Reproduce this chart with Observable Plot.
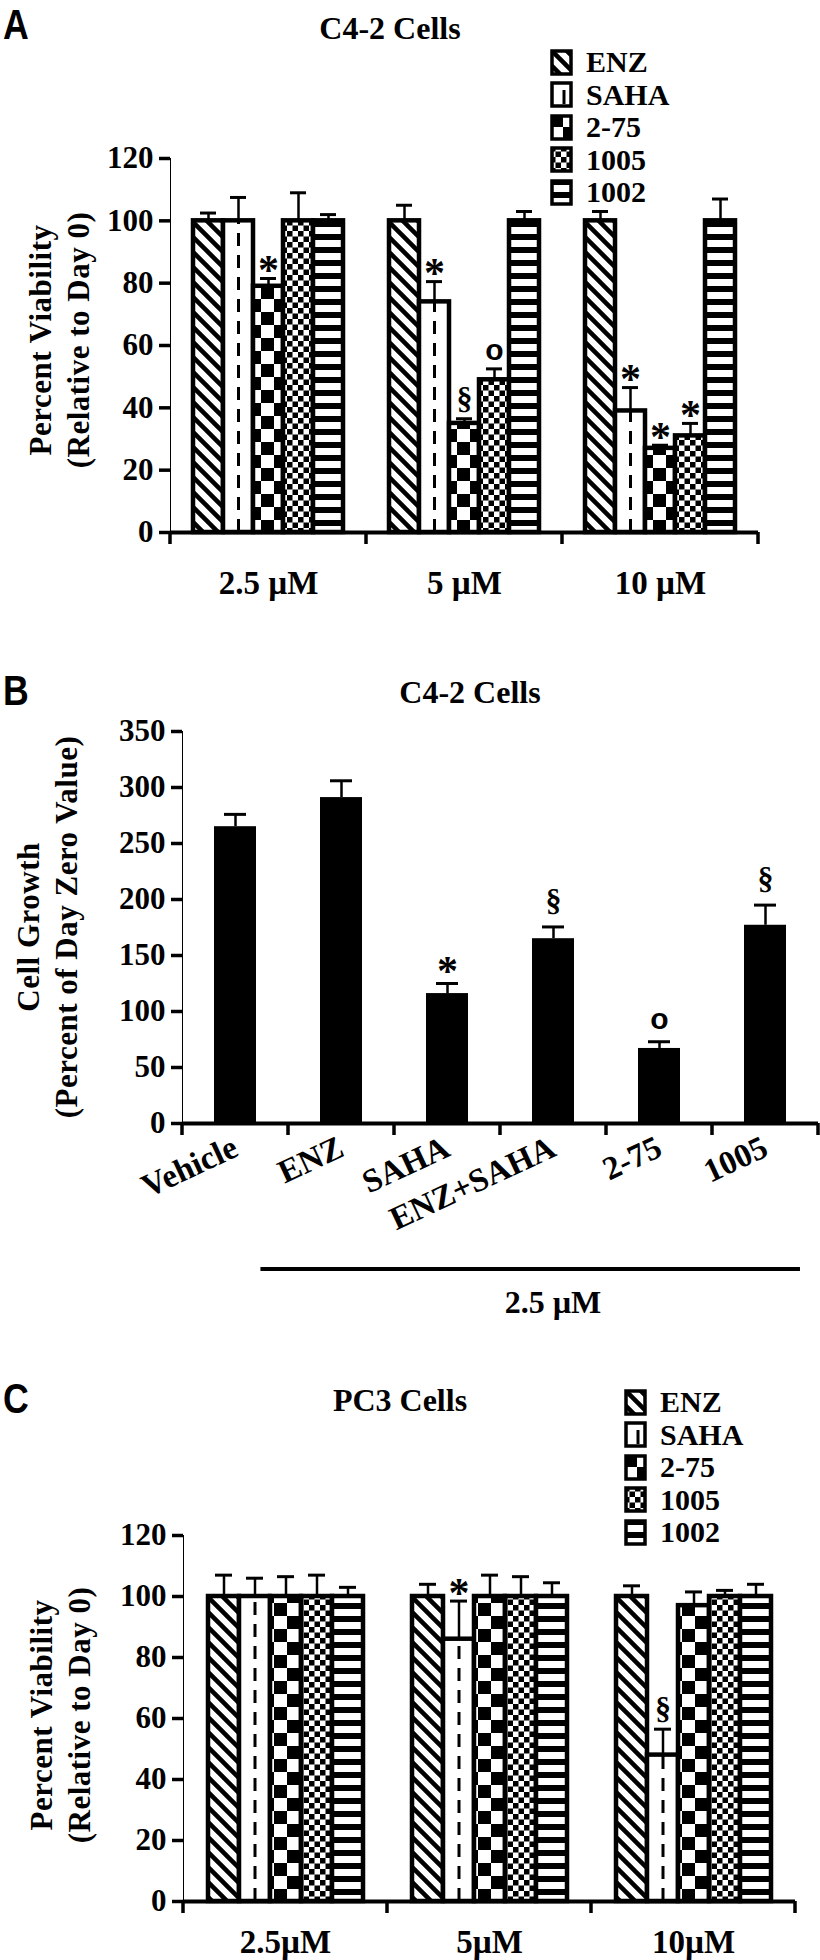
<!DOCTYPE html>
<html><head><meta charset="utf-8">
<script src="https://cdn.jsdelivr.net/npm/d3@7"></script>
<script src="https://cdn.jsdelivr.net/npm/@observablehq/plot@0.6"></script>
<style>
body{margin:0;background:#fff;width:820px;height:1960px;position:relative;overflow:hidden;font-family:"Liberation Serif","Times New Roman",serif;color:#000}
.plab{position:absolute;font:bold 42px "Liberation Sans",Arial,sans-serif;line-height:42px;transform:scaleX(0.85);transform-origin:left top}
.title{position:absolute;font:bold 32px "Liberation Serif",serif;transform:translate(-50%,-50%);white-space:nowrap}
.ytitle{position:absolute;font:bold 31px "Liberation Serif",serif;transform:translate(-50%,-50%) rotate(-90deg);white-space:nowrap;text-align:center;line-height:38px;letter-spacing:0.5px}
.legend{position:absolute;font:bold 30px "Liberation Serif",serif}
.legend .row{display:flex;align-items:center;height:32.5px;white-space:nowrap}
.legend svg{margin-right:12px;flex:none}
.pa [aria-label^="y-axis"] line,.pa [aria-label^="y-axis"] path{stroke-width:3.5px}
</style></head>
<body>
<script>
const SERIF = '"Liberation Serif","Times New Roman",serif';
const SANS = '"Liberation Sans",Arial,sans-serif';

// ---------- data ----------
const seriesNames = ["ENZ", "SAHA", "2-75", "1005", "1002"];

// Panel A: C4-2 cells, percent viability
const dosesA = ["2.5 µM", "5 µM", "10 µM"];
const aENZ = [100, 100, 100];
const aSAHA = [100, 74, 39];
const a275 = [79, 35, 27];
const a1005 = [100, 49, 31];
const a1002 = [100, 100, 100];
const aErrENZ = [2.5, 5, 3];
const aErrSAHA = [7.5, 6.5, 7.5];
const aErr275 = [2.5, 1.5, 1];
const aErr1005 = [9, 3.5, 4];
const aErr1002 = [2, 3, 7];
const aSigENZ = ["", "", ""];
const aSigSAHA = ["", "*", "*"];
const aSig275 = ["*", "§", "*"];
const aSig1005 = ["", "o", "*"];
const aSig1002 = ["", "", ""];

// Panel B: C4-2 cells, cell growth
const catsB = ["Vehicle", "ENZ", "SAHA", "ENZ+SAHA", "2-75", "1005"];
const valsB = [265, 291, 116, 165, 67, 177];
const errsB = [11, 15, 9, 10.5, 6, 18];
const sigsB = ["", "", "*", "§", "o", "§"];

// Panel C: PC3 cells, percent viability
const dosesC = ["2.5µM", "5µM", "10µM"];
const cENZ = [100, 100, 100];
const cSAHA = [100, 86, 48];
const c275 = [100, 100, 97];
const c1005 = [100, 100, 100];
const c1002 = [100, 100, 100];
const cErrENZ = [7, 4, 3.5];
const cErrSAHA = [6, 12.5, 8.5];
const cErr275 = [6.5, 7, 4.5];
const cErr1005 = [7, 6.5, 2];
const cErr1002 = [3, 4.5, 4];
const cSigENZ = ["", "", ""];
const cSigSAHA = ["", "*", "§"];
const cSig275 = ["", "", ""];
const cSig1005 = ["", "", ""];
const cSig1002 = ["", "", ""];

const yTicksViab = [0, 20, 40, 60, 80, 100, 120];
const yTicksGrowth = [0, 50, 100, 150, 200, 250, 300, 350];

function buildRows(doses, vals, errs, sigs) {
  return doses.flatMap((dose, i) => seriesNames.map((s, j) => ({
    dose, series: s, value: vals[j][i], err: errs[j][i], sig: sigs[j][i]
  })));
}
const rowsA = buildRows(dosesA, [aENZ, aSAHA, a275, a1005, a1002],
  [aErrENZ, aErrSAHA, aErr275, aErr1005, aErr1002], [aSigENZ, aSigSAHA, aSig275, aSig1005, aSig1002]);
const rowsC = buildRows(dosesC, [cENZ, cSAHA, c275, c1005, c1002],
  [cErrENZ, cErrSAHA, cErr275, cErr1005, cErr1002], [cSigENZ, cSigSAHA, cSig275, cSig1005, cSig1002]);
const rowsB = catsB.map((c, i) => ({cat: c, value: valsB[i], err: errsB[i], sig: sigsB[i]}));

// ---------- patterns ----------
const defsSvg = d3.select(document.body).append("svg").attr("width", 0).attr("height", 0)
  .style("position", "absolute").style("left", 0).style("top", 0);
const defs = defsSvg.append("defs");
function pat(id, w, h) {
  const p = defs.append("pattern").attr("id", id).attr("patternUnits", "userSpaceOnUse").attr("width", w).attr("height", h);
  p.append("rect").attr("width", w).attr("height", h).attr("fill", "white");
  return p;
}
{ const p = pat("pENZ", 15, 15);
  p.append("path").attr("d", "M-3,-3L18,18M-10.5,4.5L10.5,25.5M4.5,-10.5L25.5,10.5").attr("stroke", "black").attr("stroke-width", 4.5); }
{ const p = pat("p275", 26, 26);
  p.append("rect").attr("width", 13).attr("height", 13).attr("fill", "black");
  p.append("rect").attr("x", 13).attr("y", 13).attr("width", 13).attr("height", 13).attr("fill", "black"); }
{ const p = pat("p1005", 11, 11);
  p.append("rect").attr("width", 5.5).attr("height", 5.5).attr("fill", "black");
  p.append("rect").attr("x", 5.5).attr("y", 5.5).attr("width", 5.5).attr("height", 5.5).attr("fill", "black"); }
{ const p = pat("p1002", 10, 13);
  p.append("rect").attr("width", 10).attr("height", 6).attr("fill", "black"); }
const fills = ["url(#pENZ)", "white", "url(#p275)", "url(#p1005)", "url(#p1002)"];

// ---------- helpers ----------
function bandFn(sc) {
  if (sc && typeof sc.apply === "function") return {f: sc.apply, bw: sc.bandwidth};
  const b = d3.scaleBand(sc.domain, sc.range).paddingInner(sc.paddingInner || 0)
    .paddingOuter(sc.paddingOuter || 0).align(sc.align ?? 0.5);
  return {f: b, bw: b.bandwidth()};
}
function yFn(sc) {
  if (sc && typeof sc.apply === "function") return sc.apply;
  return d3.scaleLinear(sc.domain, sc.range);
}
function boundaryTicks(svg, key) {
  const sc = svg.scale(key);
  const {f, bw} = bandFn(sc);
  const y0 = yFn(svg.scale("y"))(0);
  const xs = sc.domain.map(d => f(d));
  xs.push(f(sc.domain[sc.domain.length - 1]) + bw);
  d3.select(svg).append("g").selectAll("line").data(xs).join("line")
    .attr("x1", d => d).attr("x2", d => d).attr("y1", y0).attr("y2", y0 + 12)
    .attr("stroke", "black").attr("stroke-width", 3.5);
}
function place(el, top) {
  el.style.position = "absolute"; el.style.left = "0px"; el.style.top = top + "px";
  document.body.appendChild(el);
}
function sigMarks(rows, xKey, cfg) {
  return [
    Plot.text(rows, {filter: d => d.sig === "*", x: xKey, y: d => d.value + d.err, text: "sig",
      fontSize: 42, fontFamily: SERIF, fontWeight: "bold", dy: cfg.star}),
    Plot.text(rows, {filter: d => d.sig === "§", x: xKey, y: d => d.value + d.err, text: "sig",
      fontSize: 32, fontFamily: SERIF, fontWeight: "bold", dy: cfg.sect}),
    Plot.text(rows, {filter: d => d.sig === "o", x: xKey, y: d => d.value + d.err, text: "sig",
      fontSize: 30, fontFamily: SANS, fontWeight: "bold", dy: cfg.circ})
  ];
}
function groupedPanel(rows, doses, o) {
  const svg = Plot.plot({
    width: 820, height: o.height,
    marginLeft: o.ml, marginRight: o.mr, marginTop: o.mt, marginBottom: o.mb,
    style: {fontFamily: SERIF, fontSize: "31px", fontWeight: "bold", background: "transparent", color: "black", overflow: "visible"},
    facet: {data: rows, x: "dose"},
    fx: {domain: doses, padding: 0, axis: "bottom", tickSize: 0, tickPadding: o.fxPad, label: null},
    x: {domain: seriesNames, paddingInner: 0, paddingOuter: 0.75, axis: null},
    y: {domain: [0, 120], ticks: yTicksViab, tickSize: 11, tickPadding: 6, line: true, label: null},
    color: {domain: seriesNames, range: fills},
    marks: [
      Plot.barY(rows, {x: "series", y: "value", fill: "series", stroke: "black", strokeWidth: 4.5}),
      Plot.ruleX(rows, {filter: d => d.series === "SAHA", x: "series", y1: 0, y2: "value",
        stroke: "black", strokeWidth: 3, strokeDasharray: "13 9"}),
      Plot.ruleX(rows, {x: "series", y1: "value", y2: d => d.value + d.err, stroke: "black", strokeWidth: 2.5}),
      Plot.tickY(rows, {x: "series", y: d => d.value + d.err, stroke: "black", strokeWidth: 3, insetLeft: 7, insetRight: 7}),
      ...sigMarks(rows, "series", {star: -8, sect: -20, circ: -18}),
      Plot.ruleY([0], {stroke: "black", strokeWidth: 4})
    ]
  });
  svg.classList.add("pa");
  d3.select(svg).selectAll('[aria-label^="fx-axis"] text').style("font-size", "33px");
  boundaryTicks(svg, "fx");
  return svg;
}

// ---------- panel A ----------
const svgA = groupedPanel(rowsA, dosesA, {height: 620, ml: 169, mr: 61, mt: 158, mb: 88, fxPad: 38});
place(svgA, 0);

// ---------- panel B ----------
const svgB = Plot.plot({
  width: 820, height: 680,
  marginLeft: 182, marginRight: 2, marginTop: 91, marginBottom: 197,
  style: {fontFamily: SERIF, fontSize: "31px", fontWeight: "bold", background: "transparent", color: "black", overflow: "visible"},
  x: {domain: catsB, padding: 0, tickSize: 0, tickPadding: 22, tickRotate: -25, label: null},
  y: {domain: [0, 350], ticks: yTicksGrowth, tickSize: 11, tickPadding: 6, line: true, label: null},
  marks: [
    Plot.barY(rowsB, {x: "cat", y: "value", fill: "black", insetLeft: 32, insetRight: 32}),
    Plot.ruleX(rowsB, {x: "cat", y1: "value", y2: d => d.value + d.err, stroke: "black", strokeWidth: 2.5}),
    Plot.tickY(rowsB, {x: "cat", y: d => d.value + d.err, stroke: "black", strokeWidth: 3, insetLeft: 42, insetRight: 42}),
    ...sigMarks(rowsB, "cat", {star: -12, sect: -26, circ: -22}),
    Plot.ruleY([0], {stroke: "black", strokeWidth: 4})
  ]
});
svgB.classList.add("pa");
d3.select(svgB).selectAll('[aria-label^="x-axis"] text').style("font-size", "33px");
boundaryTicks(svgB, "x");
{
  const {f, bw} = bandFn(svgB.scale("x"));
  const y0 = yFn(svgB.scale("y"))(0);
  const g = d3.select(svgB).append("g");
  g.append("line").attr("x1", f("ENZ") - 0.26 * bw).attr("x2", f("1005") + 0.83 * bw)
    .attr("y1", y0 + 146).attr("y2", y0 + 146).attr("stroke", "black").attr("stroke-width", 4);
  g.append("text").attr("x", f("ENZ+SAHA") + bw / 2).attr("y", y0 + 190).attr("text-anchor", "middle")
    .attr("font-size", 32).attr("font-weight", "bold").attr("font-family", SERIF).text("2.5 µM");
}
place(svgB, 640);

// ---------- panel C ----------
const svgC = groupedPanel(rowsC, dosesC, {height: 630, ml: 182, mr: 25, mt: 205, mb: 59, fxPad: 28});
place(svgC, 1330);

// ---------- HTML titles, labels, legends ----------
function div(cls, html, css) {
  const d = document.createElement("div"); d.className = cls; d.innerHTML = html;
  Object.assign(d.style, css); document.body.appendChild(d); return d;
}
div("plab", "A", {left: "3px", top: "4px"});
div("plab", "B", {left: "3px", top: "670px"});
div("plab", "C", {left: "3px", top: "1378px"});
div("title", "C4-2 Cells", {left: "390px", top: "28px"});
div("title", "C4-2 Cells", {left: "470px", top: "692px"});
div("title", "PC3 Cells", {left: "400px", top: "1400px"});
div("ytitle", "Percent Viability<br>(Relative to Day 0)", {left: "60px", top: "340px"});
div("ytitle", "Cell Growth<br>(Percent of Day Zero Value)", {left: "48px", top: "927px"});
div("ytitle", "Percent Viability<br>(Relative to Day 0)", {left: "61px", top: "1715px"});

function legend(left, top) {
  const lg = document.createElement("div"); lg.className = "legend";
  lg.style.left = left + "px"; lg.style.top = top + "px";
  seriesNames.forEach((s, i) => {
    const row = document.createElement("div"); row.className = "row";
    const sw = d3.create("svg").attr("width", 24).attr("height", 27);
    sw.append("rect").attr("x", 2).attr("y", 2).attr("width", 19).attr("height", 23)
      .attr("fill", fills[i]).attr("stroke", "black").attr("stroke-width", 3.5);
    if (s === "SAHA") sw.append("line").attr("x1", 14).attr("x2", 14).attr("y1", 9).attr("y2", 23)
      .attr("stroke", "black").attr("stroke-width", 3);
    row.appendChild(sw.node());
    const t = document.createElement("span"); t.textContent = s; row.appendChild(t);
    lg.appendChild(row);
  });
  document.body.appendChild(lg);
}
legend(550, 46);
legend(624, 1386);
</script>
</body></html>
